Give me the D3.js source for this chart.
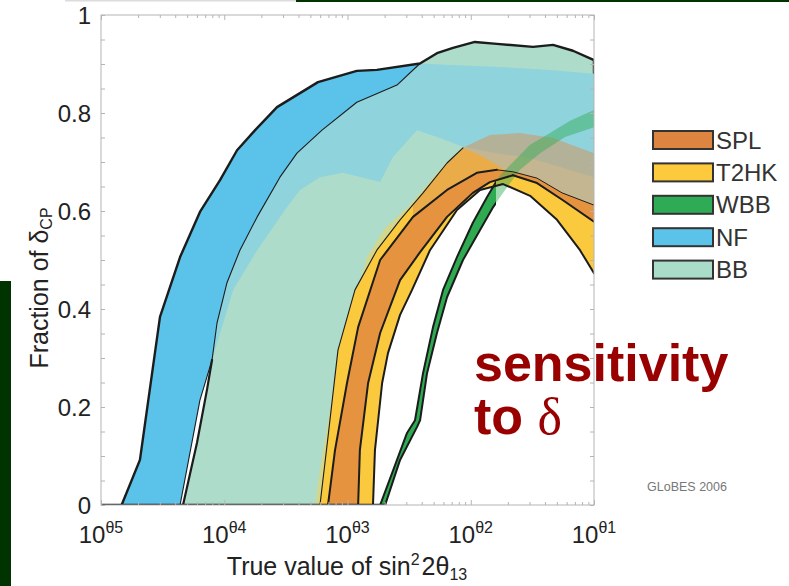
<!DOCTYPE html>
<html><head><meta charset="utf-8">
<script src="https://cdn.jsdelivr.net/npm/d3@7"></script>
<style>
body{margin:0;background:#fff}
svg{display:block}
text{font-family:"Liberation Sans",Arial,Helvetica,sans-serif}
</style>
</head><body>
<svg id="c" width="789" height="586"></svg>
<script>
// ---------- data (x = true sin^2 2theta13, y = fraction of deltaCP) ----------
const nfUpper = [[1.47e-5,0],[2.07e-5,0.092],[3.01e-5,0.384],[4.38e-5,0.506],[6.35e-5,0.598],[9.24e-5,0.663],[1.27e-4,0.724],[1.78e-4,0.765],[2.68e-4,0.812],[5.76e-4,0.863],[1.19e-3,0.886],[1.73e-3,0.888],[3.87e-3,0.901]];
const nfLower = [[4.38e-5,0],[6.35e-5,0.214],[7.96e-5,0.296],[8.73e-5,0.371],[1.05e-4,0.453],[1.34e-4,0.52],[1.85e-4,0.588],[2.83e-4,0.669],[3.89e-4,0.718],[6.21e-4,0.765],[1.19e-3,0.822],[2.52e-3,0.857],[3.87e-3,0.901]];
const nfFadeTop = [[3.87e-3,0.901],[6.79e-3,0.898],[1.73e-2,0.894],[4.4e-2,0.888],[0.1,0.88]];
const nfFadeBottom = [[8.1e-5,0.302],[1.18e-4,0.439],[1.85e-4,0.52],[3.23e-4,0.608],[4.12e-4,0.643],[5.98e-4,0.669],[9.19e-4,0.678],[1.84e-3,0.659],[2.34e-3,0.71],[3.66e-3,0.765],[5.63e-3,0.749],[8.65e-3,0.731],[1.43e-2,0.72],[3.03e-2,0.708],[0.1,0.669]];
const bbEdge = [[4.63e-5,0],[6.01e-5,0.127],[7.24e-5,0.235],[7.96e-5,0.296]];
const bbTop = [[3.87e-3,0.901],[5.32e-3,0.922],[7.18e-3,0.933],[1.08e-2,0.945],[1.63e-2,0.941],[3.2e-2,0.935],[4.65e-2,0.939],[6.75e-2,0.927],[0.1,0.908]];
const bbRightEnd = [[0.1,0.908],[0.1,0.882]];
const t2hkFadeEdge = [[5.45e-4,0],[6.33e-4,0.112],[7.92e-4,0.249],[1.05e-3,0.384],[1.44e-3,0.506],[2.02e-3,0.565],[3.22e-3,0.612],[5.63e-3,0.684],[8.65e-3,0.729]];
const t2hkUpper = [[5.98e-4,0],[6.95e-4,0.139],[8.37e-4,0.316],[1.15e-3,0.439],[1.73e-3,0.52],[2.67e-3,0.582],[4.1e-3,0.637],[6.42e-3,0.698],[8.65e-3,0.729],[1.19e-2,0.714],[1.63e-2,0.694],[2.2e-2,0.673],[3.45e-2,0.657],[5.6e-2,0.622],[0.1,0.578]];
const t2hkLower = [[1.61e-3,0],[1.67e-3,0.112],[1.91e-3,0.249],[2.13e-3,0.31],[2.67e-3,0.388],[3.34e-3,0.439],[4.67e-3,0.52],[7.73e-3,0.602],[1.19e-2,0.643],[1.83e-2,0.655],[3.03e-2,0.631],[5.01e-2,0.582],[7.7e-2,0.52],[0.1,0.473]];
const splUpper = [[6.95e-4,0],[7.92e-4,0.112],[9.91e-4,0.249],[1.22e-3,0.363],[1.84e-3,0.5],[3.4e-3,0.588],[6.42e-3,0.643],[1.12e-2,0.678],[1.63e-2,0.684],[2.2e-2,0.68],[3.45e-2,0.667],[5.5e-2,0.637],[0.1,0.612]];
const splLower = [[1.22e-3,0],[1.26e-3,0.112],[1.47e-3,0.249],[1.84e-3,0.351],[2.67e-3,0.459],[3.88e-3,0.516],[6.42e-3,0.588],[1.04e-2,0.637],[1.43e-2,0.659],[2.2e-2,0.673],[3.45e-2,0.657],[5.6e-2,0.622],[0.1,0.578]];
const splFadeUpper = [[3.4e-3,0.61],[4.1e-3,0.637],[6.42e-3,0.698],[8.65e-3,0.729],[1.43e-2,0.755],[2.51e-2,0.759],[4.65e-2,0.749],[0.1,0.718]];
const wbbUpper = [[1.84e-3,0],[2.3e-3,0.065],[3.04e-3,0.147],[3.53e-3,0.173],[4.1e-3,0.269],[4.94e-3,0.363],[5.96e-3,0.439],[7.73e-3,0.506],[1.04e-2,0.576],[1.36e-2,0.629],[1.73e-2,0.673],[2.29e-2,0.704],[3.03e-2,0.735],[4.4e-2,0.759],[6.39e-2,0.784],[0.1,0.806]];
const wbbLower = [[2.02e-3,0],[2.67e-3,0.092],[3.66e-3,0.159],[3.88e-3,0.173],[4.42e-3,0.269],[5.32e-3,0.351],[6.42e-3,0.424],[8.65e-3,0.5],[1.19e-2,0.561],[1.52e-2,0.608],[1.9e-2,0.643],[2.51e-2,0.684],[3.65e-2,0.718],[5.82e-2,0.751],[0.1,0.771]];
const wbbSolidEnd = 1.6e-2;

const xMajor = [1e-5,1e-4,1e-3,1e-2,1e-1];
const xTickExp = ["\u03b85","\u03b84","\u03b83","\u03b82","\u03b81"];
const yTicks = [0,0.2,0.4,0.6,0.8,1];
const yTickLabels = ["0","0.2","0.4","0.6","0.8","1"];
const legendNames = ["SPL","T2HK","WBB","NF","BB"];
const colors = {SPL:"#e5933e", T2HK:"#fbc93d", WBB:"#2eaa50", NF:"#5bc3ea", BB:"#aedccb", teal:"#8fd3dc", fadeY:"#f3d35a", fadeO:"#d98f55"};
const legendColors = {SPL:"#dc8440", T2HK:"#fcca3c", WBB:"#2faa55", NF:"#5bc2ea", BB:"#aadcca"};

// ---------- drawing ----------
const svg = d3.select("#c");
const x = d3.scaleLog().domain([1e-5,1e-1]).range([101,594]);
const y = d3.scaleLinear().domain([0,1]).range([505,15]);
const line = d3.line().x(d=>x(d[0])).y(d=>y(d[1]));
const poly = (up, lo) => line(up.concat(lo.slice().reverse())) + "Z";

// slide decorations
svg.append("rect").attr("x",0).attr("y",281).attr("width",11).attr("height",305).attr("fill","#013301");
svg.append("rect").attr("x",296).attr("y",0).attr("width",493).attr("height",2).attr("fill","#013301");
svg.append("rect").attr("x",65).attr("y",0).attr("width",231).attr("height",1.5).attr("fill","#dcdcdc");

const defs = svg.append("defs");
defs.append("clipPath").attr("id","plot").append("rect")
  .attr("x",x(1e-5)).attr("y",y(1)).attr("width",x(1e-1)-x(1e-5)).attr("height",y(0)-y(1));
defs.append("clipPath").attr("id","wbbSolid").append("rect")
  .attr("x",x(1e-5)).attr("y",y(1)).attr("width",x(wbbSolidEnd)-x(1e-5)).attr("height",y(0)-y(1));

const g = svg.append("g").attr("clip-path","url(#plot)");

// BB envelope (mint)
const bbUp = bbEdge.concat(nfLower.filter(d=>d[0]>7.96e-5), bbTop.slice(1));
g.append("path").attr("d", poly(bbUp, t2hkLower)).attr("fill", colors.BB);
// NF wide region over BB (teal)
const tealUp = nfLower.filter(d=>d[0]>=7.96e-5).concat(nfFadeTop.slice(1));
g.append("path").attr("d", poly(tealUp, nfFadeBottom)).attr("fill", colors.teal);
// NF band
g.append("path").attr("d", poly(nfUpper, nfLower)).attr("fill", colors.NF);
// faded T2HK strip
g.append("path").attr("d", poly(t2hkFadeEdge, t2hkUpper.filter(d=>d[0]<=8.65e-3))).attr("fill", colors.fadeY).attr("opacity",0.55);
// T2HK band
g.append("path").attr("d", poly(t2hkUpper, t2hkLower)).attr("fill", colors.T2HK);
// SPL band
g.append("path").attr("d", poly(splUpper, splLower)).attr("fill", colors.SPL);
// faded SPL region
g.append("path").attr("d", poly(splFadeUpper, splUpper.filter(d=>d[0]>=3.4e-3))).attr("fill", colors.fadeO).attr("opacity",0.5);
// WBB band: faded full + solid part
g.append("path").attr("d", poly(wbbUpper, wbbLower)).attr("fill", colors.WBB).attr("opacity",0.45);
g.append("path").attr("d", poly(wbbUpper, wbbLower)).attr("fill", colors.WBB).attr("clip-path","url(#wbbSolid)");

// outlines
const stroke = (data, w) => {
  g.append("path").attr("d", line(data)).attr("fill","none").attr("stroke","#1c1c1c")
    .attr("stroke-width", w).attr("stroke-linejoin","round").attr("stroke-linecap","round");
};
stroke([[1e-5,0],[wbbLower[0][0],0]], 2.6);
stroke(nfUpper.concat(bbTop.slice(1), bbRightEnd.slice(1)), 2.4);
stroke(nfLower, 1.1);
stroke(bbEdge, 2.2);
stroke(t2hkUpper.filter(d=>d[0]<=8.65e-3), 1.1);
stroke(t2hkUpper.filter(d=>d[0]>=2.2e-2), 2);
stroke(splUpper.filter(d=>d[0]<=1.63e-2), 2);
stroke(splUpper.filter(d=>d[0]>=1.63e-2), 1);
stroke(splLower.filter(d=>d[0]<=2.2e-2), 2);
stroke(t2hkLower, 2);
const wg = g.append("g").attr("clip-path","url(#wbbSolid)");
[wbbUpper, wbbLower].forEach(dat => wg.append("path").attr("d", line(dat)).attr("fill","none")
  .attr("stroke","#1c1c1c").attr("stroke-width",2).attr("stroke-linejoin","round"));

// frame and ticks
const frameCol = "#b4b4b4";
svg.append("rect").attr("x",x(1e-5)).attr("y",y(1)).attr("width",x(1e-1)-x(1e-5)).attr("height",y(0)-y(1))
  .attr("fill","none").attr("stroke",frameCol).attr("stroke-width",1);
const xMinor = [];
xMajor.slice(0,-1).forEach(d => { for (let k=2;k<=9;k++) xMinor.push(d*k); });
const yMinor = d3.range(0,1.0001,0.05);
const tickAxis = (axisFn, scale, vals, size, transform) => {
  const a = svg.append("g").attr("transform", transform)
    .call(axisFn(scale).tickValues(vals).tickSize(size).tickFormat(""));
  a.select(".domain").remove();
  a.selectAll("line").attr("stroke", frameCol);
};
tickAxis(d3.axisBottom, x, xMinor, -3, `translate(0,${y(0)})`);
tickAxis(d3.axisBottom, x, xMajor, -5, `translate(0,${y(0)})`);
tickAxis(d3.axisTop, x, xMinor, -3, `translate(0,${y(1)})`);
tickAxis(d3.axisTop, x, xMajor, -5, `translate(0,${y(1)})`);
tickAxis(d3.axisLeft, y, yMinor, -4, `translate(${x(1e-5)},0)`);
tickAxis(d3.axisRight, y, yMinor, -4, `translate(${x(1e-1)},0)`);

// tick labels
yTicks.forEach((v,i) => svg.append("text").attr("x",91).attr("y",y(v)).attr("dy","0.36em")
  .attr("text-anchor","end").attr("font-size",24).attr("fill","#222").text(yTickLabels[i]));
xMajor.forEach((v,i) => {
  const t = svg.append("text").attr("x",x(v)).attr("y",543).attr("text-anchor","middle")
    .attr("font-size",24).attr("fill","#222");
  t.append("tspan").text("10");
  t.append("tspan").attr("font-size",16).attr("dy",-10).text(xTickExp[i]);
});

// axis titles
const xt = svg.append("text").attr("x",347).attr("y",575).attr("text-anchor","middle").attr("font-size",25).attr("fill","#222");
xt.append("tspan").text("True value of sin");
xt.append("tspan").attr("font-size",16).attr("dy",-10).text("2");
xt.append("tspan").attr("dy",10).attr("dx",2).text("2\u03b8");
xt.append("tspan").attr("font-size",16).attr("dy",5).text("13");
const yt = svg.append("text").attr("transform","translate(48,288) rotate(-90)").attr("text-anchor","middle").attr("font-size",25).attr("fill","#222");
yt.append("tspan").text("Fraction of \u03b4");
yt.append("tspan").attr("font-size",16).attr("dy",4).text("CP");

// legend
legendNames.forEach((n,i) => {
  const ty = 131 + i*32.4;
  svg.append("rect").attr("x",653).attr("y",ty).attr("width",60).attr("height",18)
    .attr("fill",legendColors[n]).attr("stroke","#333").attr("stroke-width",2);
  svg.append("text").attr("x",716).attr("y",ty+9).attr("dy","0.36em").attr("font-size",24).attr("fill","#333").text(n);
});

// annotations
svg.append("text").attr("x",474).attr("y",381).attr("font-size",52).attr("font-weight","bold").attr("fill","#990000").text("sensitivity");
const t2 = svg.append("text").attr("x",474).attr("y",434).attr("font-size",52).attr("font-weight","bold").attr("fill","#990000");
t2.append("tspan").text("to ");
t2.append("tspan").attr("font-family","'Liberation Serif','Times New Roman',serif").attr("font-weight","normal").text("\u03b4");
svg.append("text").attr("x",687).attr("y",491).attr("text-anchor","middle").attr("font-size",12.5).attr("fill","#777").text("GLoBES 2006");
</script>
</body></html>
